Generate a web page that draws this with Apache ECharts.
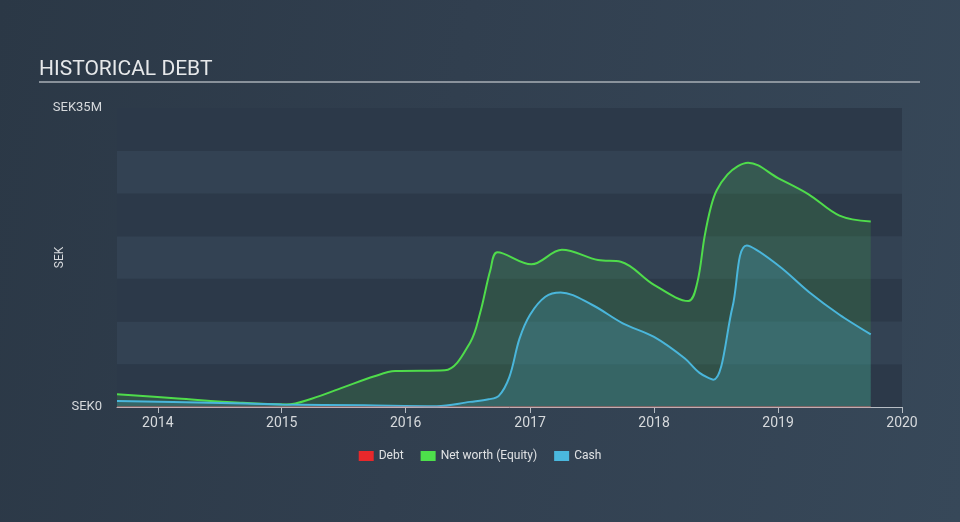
<!DOCTYPE html>
<html>
<head>
<meta charset="utf-8">
<script src="https://cdn.jsdelivr.net/npm/echarts@6/dist/echarts.min.js"></script>
<style>
html,body{margin:0;padding:0;width:960px;height:522px;overflow:hidden;}
body{background:linear-gradient(100deg,#2b3846 0%,#313f4f 45%,#374859 100%);}
#c{width:960px;height:522px;}
</style>
</head>
<body>
<div id="c"></div>
<script>
// ---- data (values in SEK millions) ----
const equityDates = ['2013-09-03','2014-03-01','2014-09-01','2015-01-15','2015-04-01','2015-07-01','2015-10-01','2015-12-01','2016-04-25','2016-07-08','2016-08-07','2016-09-06','2016-09-27','2017-01-05','2017-04-05','2017-07-20','2017-09-25','2018-01-01','2018-04-12','2018-05-08','2018-05-30','2018-06-18','2018-07-05','2018-08-05','2018-09-05','2018-10-05','2019-01-01','2019-04-01','2019-07-01','2019-10-01'];
const equityValues = [1.5,1.0,0.5,0.3,1.0,2.3,3.6,4.2,4.3,7.5,11.0,16.0,18.1,16.7,18.4,17.2,17.0,14.3,12.4,14.5,20.0,23.5,25.4,27.2,28.2,28.6,26.8,24.9,22.4,21.7];
const cashDates = ['2013-09-03','2014-06-01','2015-01-01','2015-09-01','2016-04-01','2016-07-08','2016-09-01','2016-10-01','2016-11-01','2016-12-01','2017-01-01','2017-02-15','2017-04-01','2017-07-01','2017-10-01','2018-01-01','2018-04-01','2018-05-15','2018-06-25','2018-08-20','2018-10-01','2019-01-01','2019-04-01','2019-07-01','2019-10-01'];
const cashValues = [0.7,0.5,0.3,0.2,0.1,0.6,0.9,1.3,3.5,8.0,10.8,12.9,13.4,12.0,9.8,8.2,5.7,4.0,3.2,11.7,18.9,16.6,13.5,10.8,8.5];
const debtDates = ['2013-09-03','2019-10-01'];
const debtValues = [0,0];
const yTickLabels = {0:'SEK0', 35:'SEK35M'};
const legendNames = ['Debt','Net worth (Equity)','Cash'];

const toPairs = (d, v) => d.map((x, i) => [x, v[i] * 1e6]);

const chart = echarts.init(document.getElementById('c'), null, {renderer:'canvas'});
chart.setOption({
  backgroundColor: 'transparent',
  animation: false,
  textStyle: {fontFamily: 'Roboto'},
  graphic: [
    {type:'text', left:39, top:59, style:{text:'HISTORICAL DEBT', fontSize:21, fontFamily:'Roboto', fill:'#e6e8ea'}},
    {type:'line', shape:{x1:39, y1:82, x2:920, y2:82}, style:{stroke:'#a9afb6', lineWidth:1.7}}
  ],
  legend: {
    data: legendNames,
    bottom: 55,
    left: 'center',
    itemWidth: 15, itemHeight: 10, itemGap: 17,
    icon: 'rect',
    textStyle: {color:'#e0e2e4', fontSize:12, fontFamily:'Roboto'}
  },
  grid: {left:117, right:58, top:108, bottom:115},
  xAxis: {
    type: 'time',
    min: '2013-09-03', max: '2020-01-01',
    splitNumber: 7,
    minInterval: 365*24*3600*1000,
    axisLine: {show:true, lineStyle:{color:'#b7bdc4', width:1}},
    axisTick: {show:true, length:6, lineStyle:{color:'#b7bdc4'}},
    axisLabel: {color:'#d6d9dc', fontSize:14, margin:9, formatter:'{yyyy}', showMinLabel:false, showMaxLabel:true},
    splitLine: {show:false}
  },
  yAxis: {
    type: 'value',
    min: 0, max: 35e6, interval: 5e6,
    name: 'SEK', nameLocation: 'middle', nameRotate: 90, nameGap: 51, nameMoveOverlap: false,
    nameTextStyle: {color:'#d6d9dc', fontSize:12},
    axisLine: {show:false}, axisTick: {show:false},
    axisLabel: {color:'#d6d9dc', fontSize:13, margin:15,
      formatter: v => yTickLabels[v/1e6] || ''},
    splitLine: {show:false},
    splitArea: {show:true, areaStyle:{color:['#2c3949','#334253']}}
  },
  series: [
    {name:'Debt', type:'line', data: toPairs(debtDates, debtValues), symbol:'none', z:5,
     itemStyle:{color:'#e8282b'}, lineStyle:{color:'#e86a6a', width:1, opacity:0.8}},
    {name:'Net worth (Equity)', type:'line', data: toPairs(equityDates, equityValues), smooth:0.35, symbol:'none', z:2,
     itemStyle:{color:'#4de04b'}, lineStyle:{color:'#4fdc4b', width:2},
     areaStyle:{color:'rgba(72,196,72,0.26)'}},
    {name:'Cash', type:'line', data: toPairs(cashDates, cashValues), smooth:0.35, symbol:'none', z:3,
     itemStyle:{color:'#4ab8de'}, lineStyle:{color:'#4ab6db', width:2},
     areaStyle:{color:'rgba(74,184,222,0.28)'}}
  ]
});
</script>
</body>
</html>
